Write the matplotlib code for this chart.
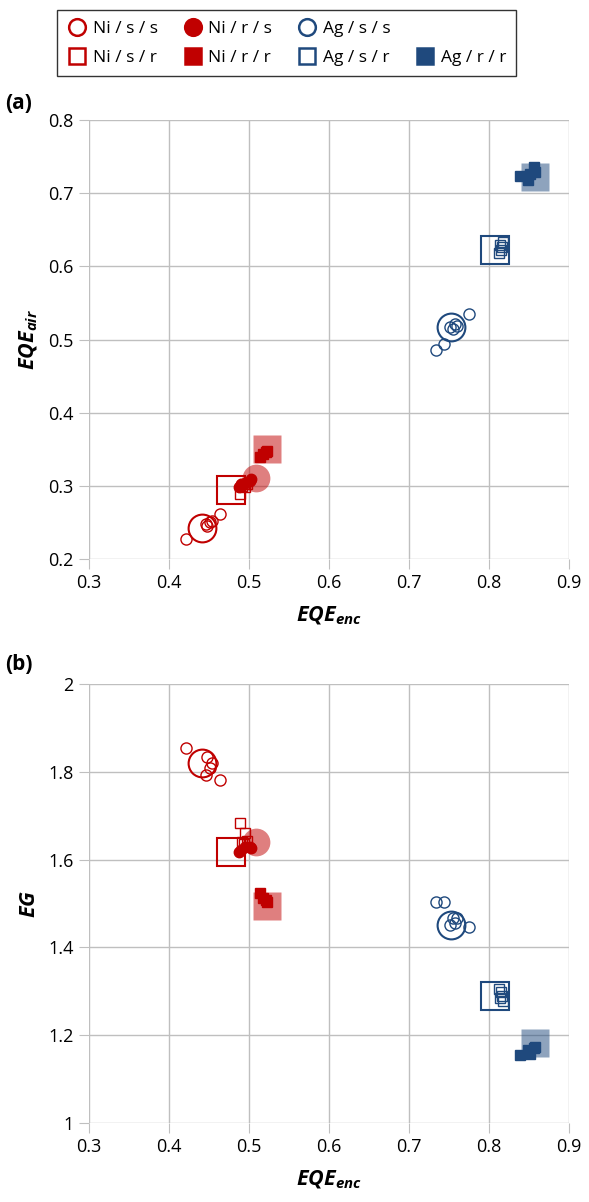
import numpy as np
import matplotlib
matplotlib.use("Agg")
import matplotlib.pyplot as plt
from matplotlib.lines import Line2D
from matplotlib.ticker import FuncFormatter

plt.rcParams['font.family'] = ['Open Sans', 'DejaVu Sans']
plt.rcParams['mathtext.fontset'] = 'custom'
plt.rcParams['mathtext.it'] = 'Open Sans:bold:italic'
plt.rcParams['mathtext.rm'] = 'Open Sans:bold:italic'

RED = '#C00000'
BLUE = '#1F497D'

# individual samples: EQE_enc, EQE_air, EG
ni_ss_enc = [0.421, 0.446, 0.448, 0.451, 0.454, 0.464]
ni_ss_air = [0.227, 0.248, 0.245, 0.251, 0.252, 0.261]
ni_ss_eg = [1.853, 1.793, 1.834, 1.808, 1.819, 1.780]

ni_sr_enc = [0.489, 0.495, 0.491, 0.498, 0.494]
ni_sr_air = [0.289, 0.298, 0.300, 0.303, 0.302]
ni_sr_eg = [1.683, 1.661, 1.639, 1.641, 1.636]

ni_rs_enc = [0.487, 0.490, 0.495, 0.501, 0.503]
ni_rs_air = [0.299, 0.302, 0.304, 0.307, 0.309]
ni_rs_eg = [1.616, 1.622, 1.628, 1.628, 1.626]

ni_rr_enc = [0.514, 0.518, 0.522, 0.521]
ni_rr_air = [0.340, 0.344, 0.348, 0.346]
ni_rr_eg = [1.523, 1.512, 1.504, 1.507]

ag_ss_enc = [0.734, 0.744, 0.751, 0.755, 0.758, 0.760, 0.775]
ag_ss_air = [0.486, 0.494, 0.517, 0.515, 0.521, 0.518, 0.535]
ag_ss_eg = [1.504, 1.504, 1.452, 1.466, 1.455, 1.466, 1.446]

ag_sr_enc = [0.813, 0.815, 0.816, 0.814, 0.817]
ag_sr_air = [0.618, 0.622, 0.626, 0.630, 0.634]
ag_sr_eg = [1.305, 1.298, 1.290, 1.284, 1.277]

ag_rr_enc = [0.839, 0.849, 0.851, 0.856, 0.8575]
ag_rr_air = [0.724, 0.718, 0.727, 0.736, 0.729]
ag_rr_eg = [1.154, 1.166, 1.158, 1.170, 1.173]

# group averages (big markers): enc, air, eg
mean_labels = ['Ni/s/s', 'Ni/s/r', 'Ni/r/s', 'Ni/r/r', 'Ag/s/s', 'Ag/s/r', 'Ag/r/r']
mean_enc = [0.441, 0.477, 0.509, 0.523, 0.753, 0.808, 0.858]
mean_air = [0.242, 0.294, 0.310, 0.350, 0.517, 0.622, 0.723]
mean_eg = [1.820, 1.618, 1.639, 1.493, 1.451, 1.289, 1.182]

groups = [
    ('Ni / s / s', ni_ss_enc, ni_ss_air, ni_ss_eg, 'o', RED, False),
    ('Ni / s / r', ni_sr_enc, ni_sr_air, ni_sr_eg, 's', RED, False),
    ('Ni / r / s', ni_rs_enc, ni_rs_air, ni_rs_eg, 'o', RED, True),
    ('Ni / r / r', ni_rr_enc, ni_rr_air, ni_rr_eg, 's', RED, True),
    ('Ag / s / s', ag_ss_enc, ag_ss_air, ag_ss_eg, 'o', BLUE, False),
    ('Ag / s / r', ag_sr_enc, ag_sr_air, ag_sr_eg, 's', BLUE, False),
    ('Ag / r / r', ag_rr_enc, ag_rr_air, ag_rr_eg, 's', BLUE, True),
]

fig = plt.figure(figsize=(5.89, 12.02), dpi=100)
ax_a = fig.add_axes([0.151, 0.535, 0.815, 0.365])
ax_b = fig.add_axes([0.151, 0.0657, 0.815, 0.3654])


def draw(ax, col):
    for i, (lab, enc, air, eg, mk, c, filled) in enumerate(groups):
        ys = air if col == 0 else eg
        my = mean_air[i] if col == 0 else mean_eg[i]
        if filled:
            ax.plot(mean_enc[i], my, mk, ms=20, color=c, alpha=0.5, mec='none', zorder=2)
            ax.plot(enc, ys, mk, ms=7.5, color=c, mec=c, zorder=3)
        else:
            ax.plot(mean_enc[i], my, mk, ms=20, mfc='none', mec=c, mew=1.5, zorder=4)
            ax.plot(enc, ys, mk, ms=8 if mk == 'o' else 7, mfc='none', mec=c, mew=1.0, zorder=3)
    ax.set_xlim(0.3, 0.9)
    ax.set_xticks(np.arange(0.3, 0.91, 0.1))
    ax.grid(True, color='#BFBFBF', lw=1)
    ax.set_axisbelow(True)
    for s in ax.spines.values():
        s.set_visible(False)
    ax.tick_params(length=7, color='#BFBFBF', labelsize=13, pad=4, direction='out')
    fmt = FuncFormatter(lambda v, p: '%g' % round(v, 2))
    ax.xaxis.set_major_formatter(fmt)
    ax.yaxis.set_major_formatter(fmt)
    ax.set_xlabel(r'$EQE_{enc}$', fontsize=15.5, labelpad=9)


draw(ax_a, 0)
ax_a.set_ylim(0.2, 0.8)
ax_a.set_yticks(np.arange(0.2, 0.81, 0.1))
ax_a.set_ylabel(r'$EQE_{air}$', fontsize=15.5, labelpad=6)

draw(ax_b, 1)
ax_b.set_ylim(1.0, 2.0)
ax_b.set_yticks(np.arange(1.0, 2.01, 0.2))
ax_b.set_ylabel(r'$EG$', fontsize=15.5, labelpad=6)

fig.text(0.008, 0.914, '(a)', fontsize=15, fontweight='bold', va='center')
fig.text(0.008, 0.447, '(b)', fontsize=15, fontweight='bold', va='center')

# legend, 4 columns, filled column-wise
def h(mk, c, filled):
    return Line2D([], [], ls='none', marker=mk, ms=12 if mk == 'o' else 11.5,
                  mfc=c if filled else 'none', mec=c, mew=1.8)

blank = Line2D([], [], ls='none', marker=None)
handles = [h('o', RED, False), h('s', RED, False),
           h('o', RED, True), h('s', RED, True),
           h('o', BLUE, False), h('s', BLUE, False),
           blank, h('s', BLUE, True)]
labels = ['Ni / s / s', 'Ni / s / r', 'Ni / r / s', 'Ni / r / r',
          'Ag / s / s', 'Ag / s / r', '', 'Ag / r / r']
leg = fig.legend(handles, labels, ncol=4, loc='center',
                 bbox_to_anchor=(0.487, 0.964), fontsize=12.5, frameon=True,
                 fancybox=False, edgecolor='black', handletextpad=0.35,
                 columnspacing=1.45, handlelength=1.1, borderpad=0.6,
                 labelspacing=0.75, borderaxespad=0)
leg.get_frame().set_linewidth(1.0)

fig.savefig('out.png', dpi=100)
